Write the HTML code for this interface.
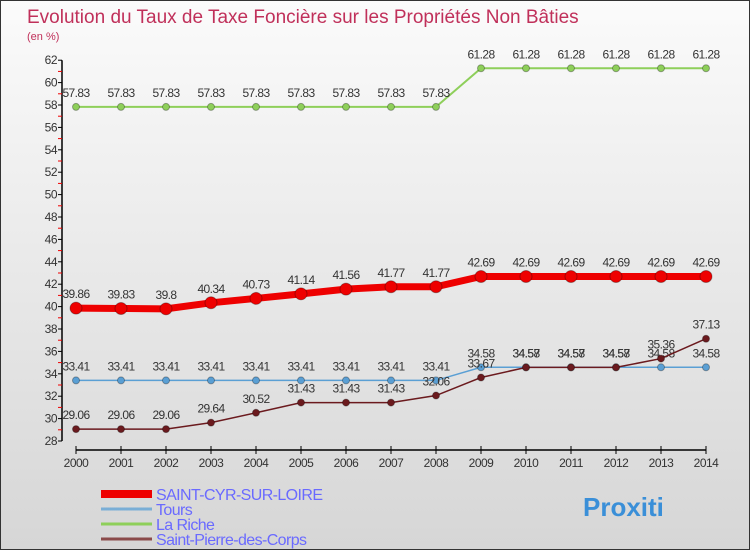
<!DOCTYPE html>
<html><head><meta charset="utf-8"><style>
body{margin:0;}
#wrap{position:relative;width:748px;height:548px;border:1px solid #333;background:linear-gradient(#fbfbfb,#d6d6d6);font-family:"Liberation Sans",sans-serif;overflow:hidden}
svg text{font-family:"Liberation Sans",sans-serif}
</style></head><body>
<div id="wrap">
<svg id="c" width="748" height="548"></svg>
</div>
<script>
const years=[2000,2001,2002,2003,2004,2005,2006,2007,2008,2009,2010,2011,2012,2013,2014];
const saintCyr=[39.86,39.83,39.8,40.34,40.73,41.14,41.56,41.77,41.77,42.69,42.69,42.69,42.69,42.69,42.69];
const tours=[33.41,33.41,33.41,33.41,33.41,33.41,33.41,33.41,33.41,34.58,34.58,34.58,34.58,34.58,34.58];
const laRiche=[57.83,57.83,57.83,57.83,57.83,57.83,57.83,57.83,57.83,61.28,61.28,61.28,61.28,61.28,61.28];
const saintPierre=[29.06,29.06,29.06,29.64,30.52,31.43,31.43,31.43,32.06,33.67,34.57,34.57,34.57,35.36,37.13];
const yTicks=[28,30,32,34,36,38,40,42,44,46,48,50,52,54,56,58,60,62];
const NS="http://www.w3.org/2000/svg";
const svg=document.getElementById('c');
const X=i=>75+i*45;
const Y=v=>440-(v-28)*11.2;
function el(t,a,p){const e=document.createElementNS(NS,t);for(const k in a)e.setAttribute(k,a[k]);(p||svg).appendChild(e);return e;}
let t=el('text',{x:26,y:22,'font-size':19,fill:'#c0305a'});t.textContent='Evolution du Taux de Taxe Foncière sur les Propriétés Non Bâties';

t=el('text',{x:26,y:39,'font-size':11,fill:'#c0305a'});t.textContent='(en %)';

let a=el('line',{x1:61,y1:Y(62),x2:61,y2:Y(28),stroke:'#000','stroke-width':1.5});

yTicks.forEach(v=>{
  el('line',{x1:57,x2:61,y1:Y(v),y2:Y(v),stroke:'#000'});
  if(v<62) el('line',{x1:57,x2:61,y1:Y(v+1),y2:Y(v+1),stroke:'#e00'});
  const l=el('text',{x:56,y:Y(v)+4,'font-size':12,fill:'#333','text-anchor':'end','letter-spacing':'-0.5'});l.textContent=v;
  
});
a=el('line',{x1:X(0),y1:449,x2:X(14),y2:449,stroke:'#000','stroke-width':1.5});

years.forEach((y,i)=>{
  el('line',{x1:X(i),x2:X(i),y1:445,y2:453,stroke:'#000'});
  const l=el('text',{x:X(i),y:466,'font-size':12,fill:'#333','text-anchor':'middle','letter-spacing':'-0.5'});l.textContent=y;
  
});
function series(data,color,w,r,name){
  const g=el('g',{});
  
  const p=el('polyline',{points:data.map((v,i)=>X(i)+','+Y(v)).join(' '),fill:'none',stroke:color,'stroke-width':w},g);
  
  data.forEach((v,i)=>{
    const c=el('circle',{cx:X(i),cy:Y(v),r:r,fill:color,stroke:'rgba(0,0,0,0.3)'},g);
    
    const l=el('text',{x:X(i),y:Y(v)-10,'font-size':12,fill:'#333','text-anchor':'middle','letter-spacing':'-0.6'},g);l.textContent=v;
    
  });
}
series(laRiche,'#8ecf5a',2,3.5,'la-riche');
series(tours,'#5a9fd4',1.5,3.5,'tours');
series(saintPierre,'#6b1a1e',1.5,3.5,'saint-pierre');
series(saintCyr,'#ee0000',7,6,'saint-cyr');
const legend=[['SAINT-CYR-SUR-LOIRE','#ee0000',8],['Tours','#7aaed6',3],['La Riche','#8ecf5a',3],['Saint-Pierre-des-Corps','#8a4a4a',3]];
legend.forEach((d,i)=>{
  const y=493+i*15;
  const g=el('g',{});
  el('line',{x1:100,x2:151,y1:y,y2:y,stroke:d[1],'stroke-width':d[2]},g);
  const l=el('text',{x:155,y:y+6,'font-size':16,fill:'#6a6aff','letter-spacing':'-0.6'},g);l.textContent=d[0];
});
const lg=el('text',{x:582,y:515,'font-size':26,'font-weight':'bold',fill:'#3a8fd8'});lg.textContent='Proxiti';

</script>
</body></html>
